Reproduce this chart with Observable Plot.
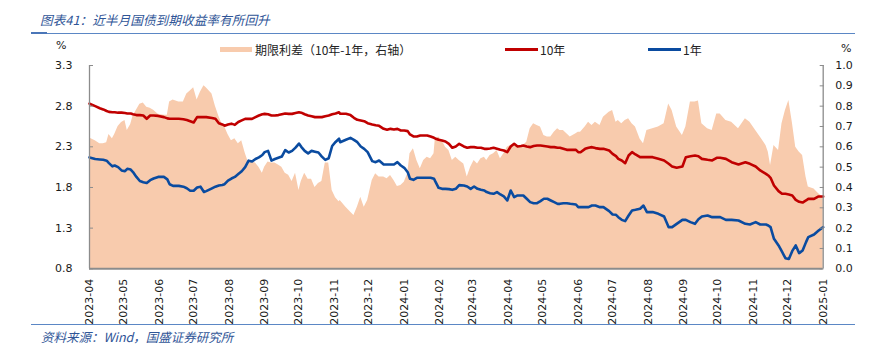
<!DOCTYPE html>
<html><head><meta charset="utf-8">
<script src="https://cdn.jsdelivr.net/npm/d3@7"></script>
<script src="https://cdn.jsdelivr.net/npm/@observablehq/plot@0.6"></script>
<style>
body{margin:0;background:#fff;}
#wrap{position:relative;width:881px;height:352px;overflow:hidden;background:#fff;}
#chart{position:absolute;left:0;top:0;}
.abs{position:absolute;white-space:nowrap;}
.cjk{font-family:"Noto Sans CJK SC","DejaVu Sans",sans-serif;}
.title{left:40px;top:12px;font-size:12.7px;line-height:16px;font-style:italic;color:#2F5597;}
.foot{left:41px;top:328.5px;font-size:12.5px;line-height:16px;font-style:italic;color:#2F5597;}
.rule{position:absolute;height:1px;background:#5B87C5;}
.unit{font-family:"DejaVu Sans";font-size:11px;line-height:14px;color:#1a1a1a;}
.leg{font-size:12px;line-height:16px;top:41.5px;color:#222;}
.sw{position:absolute;}
</style></head><body>
<div id="wrap">
  <div id="chart"></div>
  <div class="abs cjk title">图表41：近半月国债到期收益率有所回升</div>
  <div class="rule" style="left:31px;top:33px;width:824px;"></div>
  <div class="rule" style="left:31px;top:32px;width:16px;height:2px;background:#4A76B8;"></div>
  <div class="abs unit" style="left:56px;top:39px;">%</div>
  <div class="abs unit" style="left:841px;top:42px;">%</div>
  <div class="sw" style="left:220px;top:47px;width:32px;height:5px;background:#F8CBAD;"></div>
  <div class="abs cjk leg" style="left:255px;">期限利差（10年-1年，右轴）</div>
  <div class="sw" style="left:505px;top:47.8px;width:33px;height:3px;background:#C00000;"></div>
  <div class="abs cjk leg" style="left:540px;">10年</div>
  <div class="sw" style="left:648px;top:47.8px;width:33px;height:3px;background:#0A4BA0;"></div>
  <div class="abs cjk leg" style="left:683px;">1年</div>
  <div class="rule" style="left:31px;top:324px;width:824px;"></div>
  <div class="abs cjk foot">资料来源：Wind，国盛证券研究所</div>
</div>
<script>
const dates = [
"2023-04-01","2023-04-06","2023-04-10","2023-04-13","2023-04-16","2023-04-18","2023-04-21","2023-04-23","2023-04-26","2023-04-29",
"2023-05-02","2023-05-04","2023-05-07","2023-05-09","2023-05-12","2023-05-15","2023-05-18","2023-05-21","2023-05-24","2023-05-27",
"2023-05-31","2023-06-05","2023-06-08","2023-06-10","2023-06-13","2023-06-18","2023-06-22","2023-06-25","2023-06-28","2023-07-01",
"2023-07-04","2023-07-07","2023-07-10","2023-07-12","2023-07-17","2023-07-20","2023-07-23","2023-07-26","2023-07-28","2023-07-31",
"2023-08-03","2023-08-06","2023-08-09","2023-08-12","2023-08-15","2023-08-18","2023-08-21","2023-08-24","2023-08-27","2023-08-30",
"2023-09-01","2023-09-04","2023-09-07","2023-09-10","2023-09-13","2023-09-16","2023-09-19","2023-09-22","2023-09-25","2023-09-28",
"2023-10-01","2023-10-03","2023-10-06","2023-10-09","2023-10-12","2023-10-15","2023-10-18","2023-10-21","2023-10-24","2023-10-27",
"2023-10-30","2023-11-02","2023-11-05",
"2023-11-06","2023-11-11","2023-11-15","2023-11-18","2023-11-21","2023-11-24","2023-11-27","2023-11-30","2023-12-04","2023-12-07",
"2023-12-10","2023-12-14","2023-12-17","2023-12-20","2023-12-23","2023-12-26","2023-12-29","2024-01-01","2024-01-04","2024-01-06",
"2024-01-09","2024-01-12","2024-01-15","2024-01-18","2024-01-21","2024-01-24","2024-01-27","2024-01-28","2024-01-31","2024-02-03",
"2024-02-06","2024-02-09","2024-02-12","2024-02-15","2024-02-18","2024-02-22","2024-02-25","2024-02-28","2024-03-02","2024-03-05",
"2024-03-08","2024-03-11","2024-03-13","2024-03-16","2024-03-19","2024-03-22","2024-03-25","2024-03-28","2024-03-31","2024-04-03",
"2024-04-06","2024-04-09","2024-04-12","2024-04-14","2024-04-17","2024-04-20","2024-04-23","2024-04-26","2024-04-29","2024-05-02",
"2024-05-05","2024-05-08","2024-05-11","2024-05-14","2024-05-16","2024-05-19","2024-05-22","2024-05-25","2024-05-30","2024-06-01",
"2024-06-03","2024-06-07","2024-06-10","2024-06-13","2024-06-16","2024-06-20","2024-06-23","2024-06-28","2024-07-01","2024-07-04",
"2024-07-06","2024-07-09","2024-07-12","2024-07-15","2024-07-18","2024-07-21","2024-07-25","2024-07-28","2024-07-31","2024-08-05",
"2024-08-10","2024-08-15","2024-08-19","2024-08-22","2024-08-26","2024-08-31","2024-09-03","2024-09-07","2024-09-11","2024-09-14",
"2024-09-17","2024-09-22","2024-09-26","2024-09-30","2024-10-03","2024-10-08","2024-10-13","2024-10-19","2024-10-25","2024-10-29",
"2024-11-03","2024-11-07","2024-11-12","2024-11-14","2024-11-16","2024-11-19","2024-11-23","2024-11-26","2024-11-29","2024-12-02",
"2024-12-05","2024-12-08","2024-12-11","2024-12-14","2024-12-17","2024-12-19","2024-12-24","2024-12-28","2025-01-01"
];
// 期限利差 (10年-1年), right axis
const spread = [
.644,.63,.615,.615,.62,.66,.64,.66,.70,.72,
.73,.68,.71,.75,.78,.81,.815,.795,.79,.78,
.76,.755,.755,.82,.83,.82,.82,.86,.875,.89,
.83,.87,.90,.89,.86,.80,.75,.71,.70,.66,
.63,.64,.615,.63,.57,.52,.525,.52,.50,.47,
.50,.525,.52,.52,.51,.50,.47,.46,.43,.47,
.385,.43,.47,.44,.44,.40,.42,.43,.52,.52,
.385,.35,.33,
.336,.303,.279,.262,.303,.352,.303,.336,.434,.467,
.451,.451,.443,.459,.434,.405,.41,.426,.467,.566,
.59,.533,.492,.533,.549,.541,.566,.631,.648,.631,
.598,.582,.533,.549,.533,.516,.451,.50,.533,.516,
.541,.549,.533,.557,.566,.582,.541,.566,.598,.607,
.615,.607,.598,.607,.623,.689,.713,.705,.697,.656,
.648,.648,.672,.689,.68,.68,.664,.648,.664,.672,
.672,.697,.721,.705,.721,.705,.746,.77,.779,.721,
.73,.713,.73,.738,.713,.697,.639,.615,.68,.689,
.697,.713,.811,.779,.697,.656,.697,.82,.82,.825,
.713,.689,.68,.762,.762,.73,.721,.689,.738,.721,
.68,.648,.607,.574,.508,.607,.582,.713,.779,.828,
.721,.598,.574,.557,.451,.402,.393,.369,.352
];
// 10年
const y10 = [
2.83,2.80,2.775,2.76,2.74,2.73,2.725,2.725,2.72,2.72,
2.715,2.71,2.71,2.70,2.69,2.69,2.685,2.645,2.685,2.685,
2.68,2.665,2.65,2.645,2.645,2.645,2.64,2.63,2.615,2.60,
2.665,2.665,2.665,2.665,2.655,2.645,2.59,2.575,2.56,2.575,
2.585,2.57,2.605,2.625,2.644,2.645,2.644,2.665,2.685,2.70,
2.705,2.70,2.685,2.685,2.69,2.70,2.71,2.705,2.705,2.715,
2.725,2.72,2.70,2.685,2.675,2.665,2.665,2.665,2.675,2.685,
2.70,2.71,2.725,
2.706,2.706,2.69,2.657,2.632,2.624,2.615,2.59,2.575,2.566,
2.558,2.521,2.509,2.521,2.513,2.521,2.501,2.501,2.493,2.452,
2.427,2.427,2.44,2.44,2.44,2.427,2.411,2.403,2.386,2.378,
2.366,2.337,2.288,2.304,2.337,2.304,2.288,2.296,2.296,2.288,
2.288,2.275,2.275,2.28,2.288,2.275,2.263,2.255,2.234,2.304,
2.337,2.304,2.31,2.316,2.304,2.296,2.31,2.316,2.316,2.31,
2.304,2.296,2.296,2.288,2.288,2.275,2.263,2.263,2.263,2.234,
2.234,2.275,2.288,2.296,2.284,2.275,2.275,2.255,2.214,2.185,
2.152,2.132,2.099,2.193,2.234,2.206,2.173,2.173,2.173,2.173,
2.152,2.132,2.091,2.058,2.042,2.058,2.173,2.185,2.193,2.185,
2.152,2.14,2.132,2.165,2.165,2.152,2.111,2.083,2.111,2.091,
2.058,2.009,1.968,1.948,1.919,1.825,1.755,1.722,1.722,1.714,
1.702,1.648,1.624,1.615,1.64,1.66,1.66,1.69,1.69
];
// 1年
const y1 = [
2.17,2.15,2.145,2.14,2.13,2.10,2.06,2.07,2.05,2.01,
2.00,2.03,2.02,1.99,1.93,1.88,1.865,1.855,1.89,1.91,
1.93,1.93,1.90,1.84,1.82,1.82,1.81,1.79,1.76,1.76,
1.80,1.81,1.745,1.755,1.79,1.81,1.825,1.83,1.84,1.885,
1.91,1.93,1.965,2.00,2.05,2.13,2.12,2.15,2.17,2.20,
2.235,2.25,2.13,2.15,2.165,2.18,2.26,2.23,2.25,2.29,
2.34,2.30,2.25,2.22,2.25,2.24,2.23,2.18,2.14,2.16,
2.31,2.36,2.40,
2.357,2.386,2.41,2.386,2.357,2.304,2.275,2.234,2.124,2.111,
2.132,2.083,2.083,2.083,2.083,2.111,2.07,2.042,1.988,1.907,
1.894,1.919,1.919,1.919,1.919,1.919,1.907,1.878,1.796,1.783,
1.783,1.78,1.771,1.783,1.829,1.825,1.812,1.783,1.812,1.783,
1.771,1.763,1.743,1.73,1.722,1.743,1.714,1.69,1.64,1.763,
1.681,1.702,1.702,1.702,1.661,1.62,1.607,1.607,1.632,1.661,
1.661,1.64,1.62,1.599,1.599,1.607,1.607,1.599,1.591,1.558,
1.558,1.558,1.558,1.578,1.578,1.558,1.558,1.509,1.468,1.464,
1.435,1.402,1.386,1.456,1.517,1.525,1.538,1.578,1.497,1.497,
1.476,1.443,1.312,1.312,1.353,1.402,1.402,1.374,1.353,1.41,
1.443,1.456,1.435,1.435,1.435,1.402,1.402,1.394,1.353,1.345,
1.374,1.345,1.345,1.333,1.312,1.169,1.087,1.01,0.93,0.92,
1.02,1.087,0.993,1.026,1.128,1.19,1.222,1.271,1.312
];
const monthTicks = ["2023-04-01","2023-05-01","2023-06-01","2023-07-01","2023-08-01","2023-09-01","2023-10-01","2023-11-01","2023-12-01","2024-01-01","2024-02-01","2024-03-01","2024-04-01","2024-05-01","2024-06-01","2024-07-01","2024-08-01","2024-09-01","2024-10-01","2024-11-01","2024-12-01","2025-01-01"];
const leftTicks = [0.8,1.3,1.8,2.3,2.8,3.3];
const rightTicks = [0,0.1,0.2,0.3,0.4,0.5,0.6,0.7,0.8,0.9,1.0];
const xDomain = ["2023-04-01","2025-01-01"];
const yDomain = [0.8,3.3];
const rightDomain = [0,1];

const parse = d3.utcParse("%Y-%m-%d");
const n = Math.min(dates.length, spread.length, y10.length, y1.length);
const rows = d3.range(n).map(i => ({date: parse(dates[i]), spread: spread[i], y10: y10[i], y1: y1[i]}));
const k = (yDomain[1]-yDomain[0])/(rightDomain[1]-rightDomain[0]);
const toLeft = r => yDomain[0] + (r - rightDomain[0]) * k;
const fromLeft = v => (v - yDomain[0]) / k + rightDomain[0];
const f1 = d3.format(".1f");
const axisColor = "#8c8c8c";

const chart = Plot.plot({
  width: 881, height: 352,
  marginTop: 65, marginBottom: 83.7, marginLeft: 89, marginRight: 58.3,
  style: {background: "transparent", fontFamily: "DejaVu Sans", fontSize: "11px", color: "#1a1a1a", overflow: "visible"},
  x: {type: "utc", domain: xDomain.map(parse), label: null},
  y: {domain: yDomain, label: null},
  marks: [
    Plot.areaY(rows, {x: "date", y1: yDomain[0], y2: d => toLeft(d.spread), fill: "#F8CBAD", curve: "linear"}),
    Plot.lineY(rows, {x: "date", y: "y10", stroke: "#C00000", strokeWidth: 2.6, strokeLinejoin: "round"}),
    Plot.lineY(rows, {x: "date", y: "y1", stroke: "#0A4BA0", strokeWidth: 2.6, strokeLinejoin: "round"}),
    Plot.ruleX(xDomain.map(parse), {stroke: axisColor, strokeWidth: 1.3}),
    Plot.ruleY([yDomain[0]], {stroke: axisColor, strokeWidth: 2}),
    Plot.axisY(leftTicks, {anchor: "left", tickSize: 4, dx: 4, tickFormat: () => "", stroke: axisColor, label: null}),
    Plot.axisY(leftTicks, {anchor: "left", tickSize: 0, tickPadding: 17, tickFormat: f1, label: null}),
    Plot.axisY(rightTicks.map(toLeft), {anchor: "right", tickSize: 4, dx: -4, tickFormat: () => "", stroke: axisColor, label: null}),
    Plot.axisY(rightTicks.map(toLeft), {anchor: "right", tickSize: 0, tickPadding: 12, tickFormat: v => f1(fromLeft(v)), label: null}),
    Plot.axisX(monthTicks.map(parse), {anchor: "bottom", tickSize: 0, tickPadding: 10, tickRotate: -90, tickFormat: d3.utcFormat("%Y-%m"), label: null})
  ]
});
document.getElementById("chart").appendChild(chart);
</script>
</body></html>
